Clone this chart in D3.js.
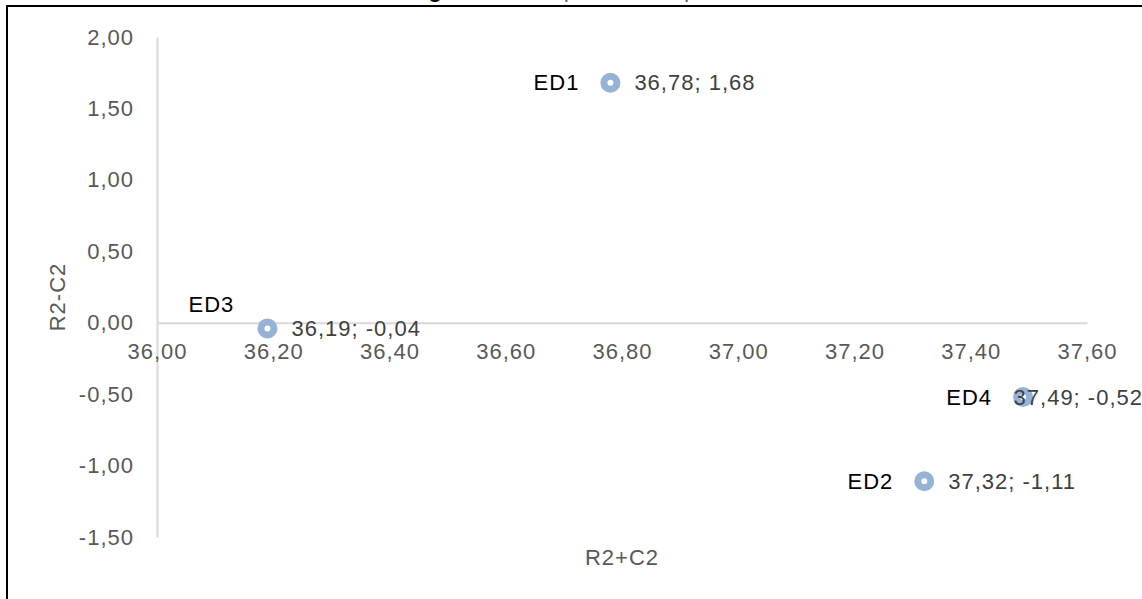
<!DOCTYPE html>
<html>
<head>
<meta charset="utf-8">
<script src="https://cdn.jsdelivr.net/npm/d3@7"></script>
<style>
  body { margin: 0; background: #fff; }
  text { font-family: "Liberation Sans", Arial, sans-serif; letter-spacing: 1px; }
</style>
</head>
<body>
<svg id="chart"></svg>
<script>
// Data
const pointNames = ["ED1", "ED2", "ED3", "ED4"];
const xValues = [36.78, 37.32, 36.19, 37.49];
const yValues = [1.68, -1.11, -0.04, -0.52];
const xTicks = [36.0, 36.2, 36.4, 36.6, 36.8, 37.0, 37.2, 37.4, 37.6];
const yTicks = [-1.5, -1.0, -0.5, 0.0, 0.5, 1.0, 1.5, 2.0];

const W = 1142, H = 599;
const plot = { left: 157, right: 1087, top: 37, bottom: 537 };
const fontSize = "22px";

const svg = d3.select("#chart")
    .attr("width", W)
    .attr("height", H);

// comma decimal locale, plain hyphen minus
const locale = d3.formatLocale({ decimal: ",", thousands: ".", grouping: [3], currency: ["", "€"], minus: "-" });
const fmt = locale.format(".2f");

// scales
const x = d3.scaleLinear().domain([36.0, 37.6]).range([plot.left, plot.right]);
const y = d3.scaleLinear().domain([-1.5, 2.0]).range([plot.bottom, plot.top]);

// title, mostly cut off by the top edge like in the source
svg.append("text")
    .attr("x", 560)
    .attr("y", -2)
    .attr("text-anchor", "middle")
    .style("font-size", "21px")
    .style("letter-spacing", "0px")
    .style("fill", "#595959")
    .call(t => {
        t.append("tspan").text("Tabla 4. ");
        t.append("tspan").style("font-weight", "bold").style("fill", "#000").text("Diagrama");
        t.append("tspan").text(" causal para las sub prácticas ED");
    });

// frame
svg.append("path")
    .attr("d", `M7,${H} V6 H${W}`)
    .attr("fill", "none")
    .attr("stroke", "#000")
    .attr("stroke-width", 2);

// y-axis
const yAxis = svg.append("g")
    .attr("transform", `translate(${plot.left},0)`)
    .call(d3.axisLeft(y).tickValues(yTicks).tickFormat(fmt).tickSize(0).tickPadding(23));

// x-axis crossing at 0
const xAxis = svg.append("g")
    .attr("transform", `translate(0,${y(0)})`)
    .call(d3.axisBottom(x).tickValues(xTicks).tickFormat(fmt).tickSize(0).tickPadding(21));

[xAxis, yAxis].forEach(a => {
    a.select(".domain").attr("stroke", "#d9d9d9").attr("stroke-width", 2);
    a.selectAll("text")
        .style("font-size", fontSize)
        .style("fill", "#595959")
        .style("font-family", "'Liberation Sans', Arial, sans-serif");
});

// axis titles
svg.append("text")
    .attr("transform", `translate(57,${(plot.top + plot.bottom) / 2 + 10}) rotate(-90)`)
    .attr("text-anchor", "middle")
    .attr("dy", "0.35em")
    .style("font-size", fontSize)
    .style("fill", "#595959")
    .text("R2-C2");

svg.append("text")
    .attr("x", (plot.left + plot.right) / 2)
    .attr("y", 557)
    .attr("text-anchor", "middle")
    .attr("dy", "0.35em")
    .style("font-size", fontSize)
    .style("fill", "#595959")
    .text("R2+C2");

const points = pointNames.map((name, i) => ({ name, x: xValues[i], y: yValues[i] }));

// markers
const markers = svg.append("g").selectAll("g")
    .data(points)
    .enter()
    .append("g")
    .attr("transform", d => `translate(${x(d.x)},${y(d.y)})`);

markers.append("circle")
    .attr("r", 6.5)
    .attr("fill", "#fff")
    .attr("stroke", "#95b3d7")
    .attr("stroke-width", 7);

// name labels (ED3 sits above-left, the rest left of the point)
svg.append("g").selectAll("text")
    .data(points)
    .enter()
    .append("text")
    .attr("x", d => d.name === "ED3" ? x(d.x) - 56 : x(d.x) - 31)
    .attr("y", d => d.name === "ED3" ? y(d.y) - 24 : y(d.y))
    .attr("dy", "0.35em")
    .attr("text-anchor", d => d.name === "ED3" ? "middle" : "end")
    .style("font-size", fontSize)
    .style("fill", "#000")
    .text(d => d.name);

// value labels, kept inside the picture
svg.append("g").selectAll("text")
    .data(points)
    .enter()
    .append("text")
    .attr("y", d => y(d.y))
    .attr("dy", "0.35em")
    .style("font-size", fontSize)
    .style("fill", "#404040")
    .text(d => `${fmt(d.x)}; ${fmt(d.y)}`)
    .attr("x", function (d) {
        const w = this.getComputedTextLength();
        return Math.min(x(d.x) + 24, W - w + 1);
    });
</script>
</body>
</html>
